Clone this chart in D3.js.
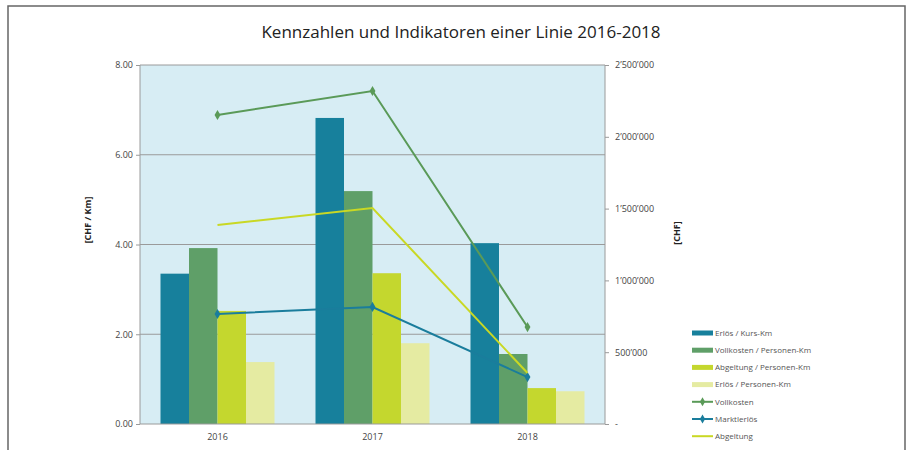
<!DOCTYPE html>
<html>
<head>
<meta charset="utf-8">
<script src="https://cdn.jsdelivr.net/npm/d3@7"></script>
<style>
    body { margin: 0; background: #fff; }
    text { font-family: "Open Sans", "Noto Sans", sans-serif; }
</style>
</head>
<body>
<svg id="chart" width="915" height="450"></svg>
<script>
// categories and series
var years = ['2016', '2017', '2018'];
var barSeries = ['Erlös / Kurs-Km', 'Vollkosten / Personen-Km', 'Abgeltung / Personen-Km', 'Erlös / Personen-Km'];
var erloesKursKm = [3.35, 6.82, 4.03];
var vollkostenPkm = [3.92, 5.19, 1.56];
var abgeltungPkm = [2.52, 3.36, 0.80];
var erloesPkm = [1.38, 1.80, 0.73];
var lineSeries = ['Vollkosten', 'Marktlerlös', 'Abgeltung'];
var vollkosten = [2152000, 2319000, 675000];
var marktErloes = [766000, 815000, 327000];
var abgeltung = [1386000, 1504000, 355000];
var leftTicks = [0, 2, 4, 6, 8];
var rightTicks = [0, 500000, 1000000, 1500000, 2000000, 2500000];

var barColors = ['#17809c', '#5f9f68', '#c4d72e', '#e5eba2'];
var lineColors = ['#5a9a58', '#1a7d9c', '#c9d824'];

var svg = d3.select('#chart');

// outer frame
svg.append('path')
    .attr('d', 'M8,452 L8,6 L905,6 L905,452')
    .attr('fill', 'none')
    .attr('stroke', '#666')
    .attr('stroke-width', 1.5);

// plot area bounds
var pL = 140, pR = 605, pT = 65, pB = 424;

var x = d3.scaleBand().domain(years).range([pL, pR]);
var xs = d3.scaleBand().domain(d3.range(4)).range([0, 114]);
var yL = d3.scaleLinear().domain([0, 8]).range([pB, pT]);
var yR = d3.scaleLinear().domain([0, 2500000]).range([pB, pT]);

// plot background
svg.append('rect')
    .attr('x', pL).attr('y', pT)
    .attr('width', pR - pL).attr('height', pB - pT)
    .attr('fill', '#d7edf4');

// gridlines
svg.append('g').selectAll('line')
    .data(leftTicks.slice(1))
    .enter().append('line')
    .attr('x1', pL).attr('x2', pR)
    .attr('y1', function (d) { return yL(d); })
    .attr('y2', function (d) { return yL(d); })
    .attr('stroke', '#9a9a9a')
    .attr('stroke-width', 1);

// bars
var barData = [erloesKursKm, vollkostenPkm, abgeltungPkm, erloesPkm];
barData.forEach(function (vals, s) {
    svg.append('g').selectAll('rect')
        .data(vals)
        .enter().append('rect')
        .attr('x', function (d, i) { return x(years[i]) + (x.bandwidth() - 114) / 2 + xs(s); })
        .attr('y', function (d) { return yL(d); })
        .attr('width', xs.bandwidth())
        .attr('height', function (d) { return pB - yL(d); })
        .attr('fill', barColors[s]);
});

// plot frame
svg.append('path')
    .attr('d', 'M' + pL + ',' + pT + ' L' + pL + ',' + pB + ' L' + pR + ',' + pB + ' L' + pR + ',' + pT)
    .attr('fill', 'none')
    .attr('stroke', '#9a9a9a');

// lines
var lineData = [vollkosten, marktErloes, abgeltung];
var line = d3.line()
    .x(function (d, i) { return x(years[i]) + x.bandwidth() / 2; })
    .y(function (d) { return yR(d); });

lineData.forEach(function (vals, s) {
    svg.append('path')
        .datum(vals)
        .attr('d', line)
        .attr('fill', 'none')
        .attr('stroke', lineColors[s])
        .attr('stroke-width', 2);
    if (s < 2) {
        svg.append('g').selectAll('path')
            .data(vals)
            .enter().append('path')
            .attr('d', d3.symbol().type(d3.symbolDiamond).size(30))
            .attr('transform', function (d, i) {
                return 'translate(' + (x(years[i]) + x.bandwidth() / 2) + ',' + yR(d) + ')';
            })
            .attr('fill', lineColors[s]);
    }
});

// left axis
var fmtL = d3.format('.2f');
var gl = svg.append('g').attr('transform', 'translate(' + pL + ',0)')
    .call(d3.axisLeft(yL).tickValues(leftTicks).tickFormat(fmtL).tickSize(4));
gl.select('.domain').remove();
gl.selectAll('line').attr('stroke', '#9a9a9a');
gl.selectAll('text').attr('fill', '#444').style('font-size', '9px');

// right axis, Swiss style thousands
var swiss = d3.formatLocale({ decimal: '.', thousands: '\u2019', grouping: [3], currency: ['', ''] }).format(',');
var fmtR = function (d) { return d === 0 ? '-' : swiss(d); };
var gr = svg.append('g').attr('transform', 'translate(' + pR + ',0)')
    .call(d3.axisRight(yR).tickValues(rightTicks).tickFormat(fmtR).tickSize(4));
gr.select('.domain').remove();
gr.selectAll('line').attr('stroke', '#9a9a9a');
gr.selectAll('text').attr('fill', '#444').style('font-size', '9px').attr('x', 10);

// x axis labels
var gx = svg.append('g').attr('transform', 'translate(0,' + pB + ')')
    .call(d3.axisBottom(x).tickSize(0).tickPadding(10));
gx.select('.domain').remove();
gx.selectAll('text').attr('fill', '#444').style('font-size', '9px');

// axis titles
svg.append('text')
    .attr('transform', 'translate(91,220) rotate(-90)')
    .attr('text-anchor', 'middle')
    .style('font-size', '9px').style('font-weight', 'bold')
    .attr('fill', '#222')
    .text('[CHF / Km]');
svg.append('text')
    .attr('transform', 'translate(680,233) rotate(-90)')
    .attr('text-anchor', 'middle')
    .style('font-size', '9px').style('font-weight', 'bold')
    .attr('fill', '#222')
    .text('[CHF]');

// title
svg.append('text')
    .attr('x', 461).attr('y', 38)
    .attr('text-anchor', 'middle')
    .style('font-size', '17px')
    .attr('fill', '#222')
    .text('Kennzahlen und Indikatoren einer Linie 2016-2018');

// legend
var legendItems = barSeries.map(function (n, i) { return { name: n, color: barColors[i], bar: true, marker: false }; })
    .concat(lineSeries.map(function (n, i) { return { name: n, color: lineColors[i], bar: false, marker: i < 2 }; }));

var lg = svg.append('g').selectAll('g')
    .data(legendItems)
    .enter().append('g')
    .attr('transform', function (d, i) { return 'translate(692,' + (333 + i * 17.2) + ')'; });
lg.append('line')
    .attr('x1', 0).attr('x2', 21)
    .attr('stroke', function (d) { return d.color; })
    .attr('stroke-width', function (d) { return d.bar ? 5 : 2; });
lg.filter(function (d) { return d.marker; })
    .append('path')
    .attr('d', d3.symbol().type(d3.symbolDiamond).size(24))
    .attr('transform', 'translate(10.5,0)')
    .attr('fill', function (d) { return d.color; });
lg.append('text')
    .attr('x', 23).attr('dy', '0.35em')
    .style('font-size', '8px')
    .attr('fill', '#555')
    .text(function (d) { return d.name; });
</script>
</body>
</html>
